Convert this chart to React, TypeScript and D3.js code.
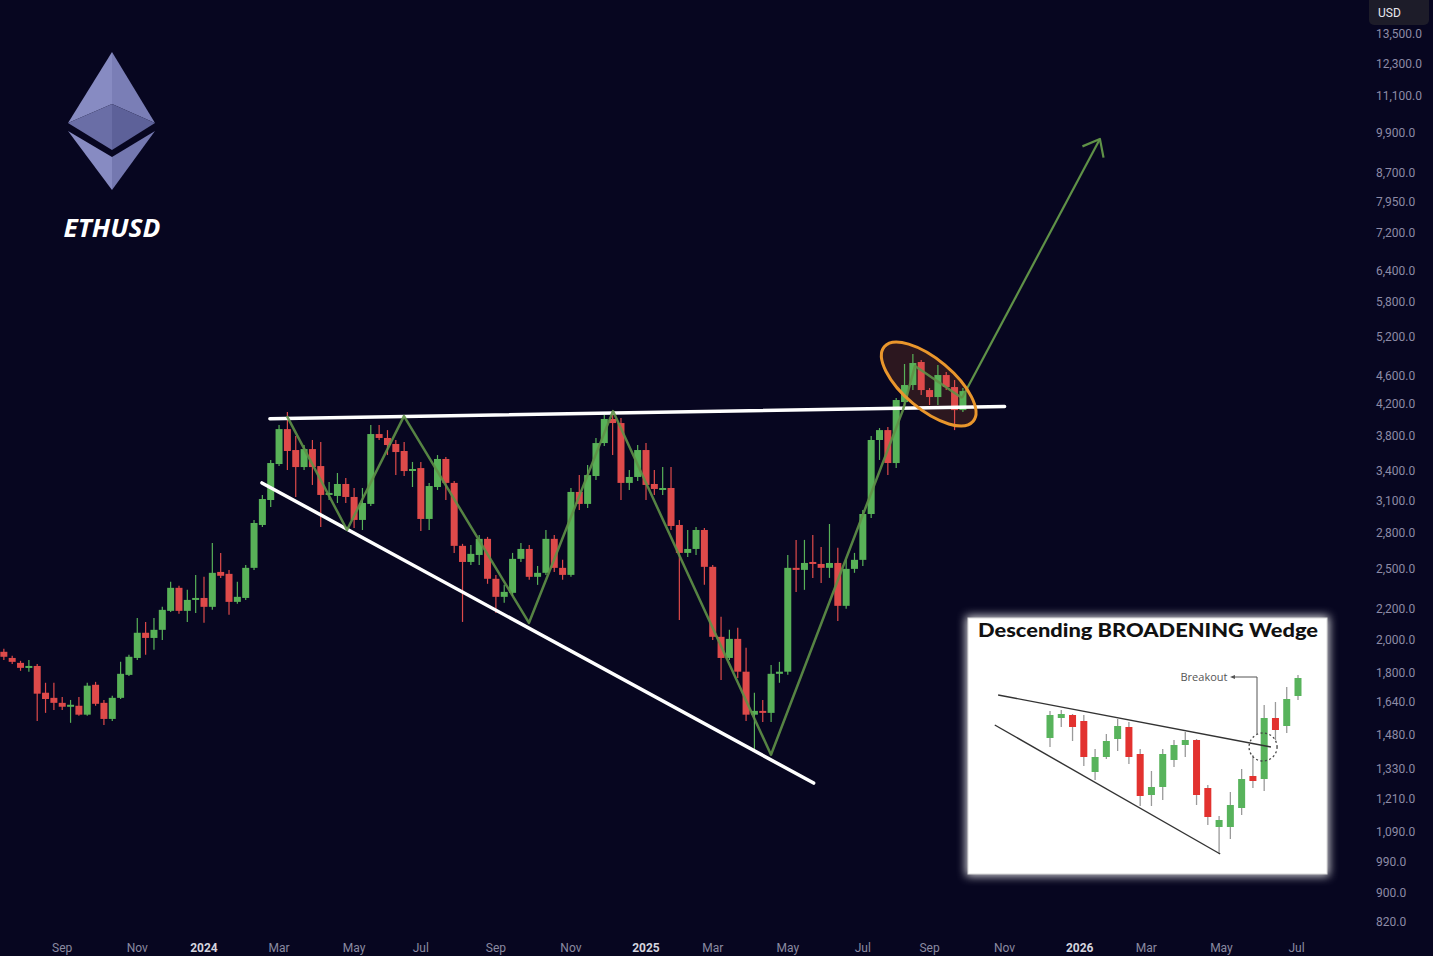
import React from "react";
import * as d3 from "d3";

const WIDTH = 1433;
const HEIGHT = 956;

// ETHUSD weekly candles, first candle week of 2023-07-17
const firstWeek = "2023-07-17";
const opens = [1923,1886,1857,1828,1839,1690,1663,1637,1617,1622,1577,1733,1637,1556,1663,1788,1886,2042,2009,2061,2188,2353,2188,2265,
  2279,2216,2474,2459,2251,2279,2506,2869,3104,3477,3882,3634,3444,3645,3455,3154,3144,3265,3134,2915,3066,3822,3775,3704,3623,3412,3433,2924,3234,3533,3276,2686,2553,2610,2746,2421,2287,2316,2578,2660,2436,2467,2746,2506,2451,3184,3066,3348,3715,4008,3957,3276,3338,
  3634,3265,3214,3224,2869,2627,2660,2824,2514,2016,1886,2003,1806,1577,1596,1586,1794,1806,2506,2490,2553,2537,2506,2545,2223,2498,2570,2970,3751,3870,3488,4228,4461,4797,4391,4295,4604,4433,4122];
const highs = [1941,1899,1869,1874,1851,1744,1744,1668,1652,1668,1744,1749,1652,1674,1863,1905,2140,2113,2140,2216,2398,2368,2338,2451,
  2436,2711,2627,2490,2398,2529,2915,3154,3522,3932,4096,3798,3692,3751,3727,3286,3380,3328,3224,3224,3932,3932,3870,3751,3727,3500,3500,3276,3577,3555,3297,2703,2694,2780,2763,2451,2375,2627,2711,2694,2521,2824,2780,2570,3224,3358,3466,3775,4058,4096,4021,3412,3692,
  3715,3412,3444,3444,2915,2824,2851,2842,2529,2147,2061,2074,1947,1690,1652,1845,1863,2610,2737,2737,2780,2677,2878,2669,2570,2627,3008,3798,3895,3907,4282,4767,4920,4828,4419,4752,4648,4532,4419];
const lows = [1874,1851,1811,1806,1546,1586,1601,1601,1537,1572,1572,1622,1527,1546,1657,1782,1874,1905,1935,1996,2181,2168,2113,2174,
  2107,2195,2428,2161,2237,2265,2490,2851,3037,3455,3412,3134,3412,3255,2851,3104,3075,3075,2842,2824,3047,3751,3577,3358,3348,3234,2815,2824,3204,3104,2627,2113,2529,2529,2383,2174,2244,2294,2553,2413,2375,2451,2474,2413,2436,3008,3027,3307,3681,3577,3104,3204,3297,
  3104,3154,3154,2824,2126,2594,2610,2375,1996,1760,1874,1771,1546,1403,1541,1541,1744,1788,2323,2338,2428,2390,2428,2120,2202,2467,2521,2933,3522,3358,3433,4175,4391,4322,4188,4188,4391,3870,4096];
const closes = [1893,1863,1828,1839,1685,1657,1637,1617,1627,1577,1728,1632,1556,1663,1794,1893,2042,2009,2061,2195,2353,2188,2265,2279,
  2216,2467,2444,2251,2287,2506,2887,3114,3488,3882,3623,3444,3645,3444,3154,3174,3265,3134,2915,3075,3822,3775,3692,3611,3401,3423,2924,3244,3533,3276,2686,2553,2619,2746,2421,2287,2323,2578,2660,2436,2467,2746,2506,2451,3184,3066,3358,3715,4008,3957,3276,3338,3634,
  3255,3214,3224,2860,2627,2660,2824,2514,2016,1886,2003,1806,1577,1596,1586,1794,1806,2506,2490,2545,2537,2506,2545,2223,2498,2570,2970,3751,3870,3488,4255,4461,4782,4391,4295,4604,4433,4122,4377];

// price axis
const yTicks = [13500,12300,11100,9900,8700,7950,7200,6400,5800,5200,4600,4200,3800,3400,3100,2800,2500,2200,2000,1800,1640,1480,1330,1210,1090,990,900,820];

// time axis
const xTickDates = ["2023-09-04","2023-11-06","2024-01-01","2024-03-04","2024-05-06","2024-07-01","2024-09-02","2024-11-04","2025-01-06","2025-03-03","2025-05-05","2025-07-07","2025-09-01","2025-11-03","2026-01-05","2026-03-02","2026-05-04","2026-07-06"];
const xTickLabels = ["Sep","Nov","2024","Mar","May","Jul","Sep","Nov","2025","Mar","May","Jul","Sep","Nov","2026","Mar","May","Jul"];

// annotations: [week index from 2024-01-01, price]
const resistanceLine: [number, number][] = [[7.9, 4010], [96.0, 4168]];
const supportLine: [number, number][] = [[6.95, 3276], [73.1, 1271]];
const zigzag: [number, number][] = [[9.95,4045],[17.15,2824],[23.98,4045],[38.97,2107],[49.04,4109],[67.99,1390],[83.81,4122],[85.25,4737],[90.89,4282]];
const projection: [number, number][] = [[90.89,4282],[107.43,9695]];
const highlight: [number, number] = [86.9, 4475];

// inset: idealised descending broadening wedge
const insetOpen = [66,76,77.5,74.5,49,56.5,65.5,71.5,58,37.5,41.5,55,62.5,65,41,21.5,21.5,31,47,45.5,76,72,87];
const insetHigh = [79.5,80,78,77.5,60.5,68,75.5,74,60.5,49.5,60.5,65,69,65.5,42.5,27,39,50.5,57.5,82.5,84,91.5,97.5];
const insetLow = [61.5,71.5,64.5,52,45,55.5,59.5,53,32,32,35,51.5,56.5,32.5,22.5,8,15.5,27.5,41,39.5,65,68.5,85];
const insetClose = [77.5,78,71.5,56.5,56.5,64.5,72,56.5,37,41.5,58,62.5,65,37.5,26.5,25,32.5,45.5,44.5,76,70,85.5,96];
const insetUpper: [number, number][] = [[-4.6,87.5],[19.6,61.5]];
const insetLower: [number, number][] = [[-4.9,72.5],[15.1,8]];
const insetBreakout: [number, number] = [18.9, 61.5];

const BG = "#070620";
const GREEN = "#58b158";
const RED = "#de4a4a";

export default function App() {
  const anchor = Date.UTC(2024, 0, 1);
  const weekMs = 7 * 864e5;
  const weekOf = (s: string) => Math.round((Date.parse(s + "T00:00:00Z") - anchor) / weekMs);
  const x = d3.scaleLinear().domain([0, 53]).range([204, 646]);
  const y = d3.scaleLog().domain([820, 13500]).range([922, 34]);
  const start = weekOf(firstWeek);
  const candles = opens.map((o, i) => ({ w: start + i, o, h: highs[i], l: lows[i], c: closes[i] }));
  const line = d3.line<[number, number]>().x(d => x(d[0])).y(d => y(d[1]));

  const ix = d3.scaleLinear().domain([0, 22]).range([1050, 1298]);
  const iy = d3.scaleLinear().domain([0, 100]).range([870, 670]);
  const iline = d3.line<[number, number]>().x(d => ix(d[0])).y(d => iy(d[1]));
  const insetCandles = insetOpen.map((o, i) => ({ o, h: insetHigh[i], l: insetLow[i], c: insetClose[i] }));

  // arrow head
  const p0 = projection[0], p1 = projection[1];
  const ax0 = x(p0[0]), ay0 = y(p0[1]), ax1 = x(p1[0]), ay1 = y(p1[1]);
  const ang = Math.atan2(ay0 - ay1, ax0 - ax1);
  const headLen = 19, spread = 0.68;
  const h1 = [ax1 + headLen * Math.cos(ang + spread), ay1 + headLen * Math.sin(ang + spread)];
  const h2 = [ax1 + headLen * Math.cos(ang - spread), ay1 + headLen * Math.sin(ang - spread)];

  const cw = 7;
  const font = "Roboto, 'DejaVu Sans', sans-serif";

  return (
    <div style={{ position: "fixed", left: 0, top: 0, width: WIDTH, height: HEIGHT, overflow: "hidden" }}>
      <svg width={WIDTH} height={HEIGHT} style={{ display: "block", background: BG }}>
        <defs>
          <filter id="glow" x="-20%" y="-20%" width="140%" height="140%">
            <feGaussianBlur stdDeviation="5" />
          </filter>
        </defs>
        <rect x={0} y={0} width={WIDTH} height={HEIGHT} fill={BG} />

        {/* ETH logo */}
        <g>
          <polygon points="112,52 68,123 112,104" fill="#878bc2" />
          <polygon points="112,52 155,123 112,104" fill="#7a7eb6" />
          <polygon points="68,123 112,104 112,150" fill="#6a6ea6" />
          <polygon points="155,123 112,104 112,150" fill="#5d6199" />
          <polygon points="68,131 112,157 112,190" fill="#878bc2" />
          <polygon points="155,131 112,157 112,190" fill="#7478b0" />
          <text x={112} y={237} textAnchor="middle" fill="#ffffff" fontFamily="'Open Sans', 'DejaVu Sans', sans-serif"
            fontWeight={700} fontStyle="italic" fontSize={25} textLength={97} lengthAdjust="spacingAndGlyphs">ETHUSD</text>
        </g>

        {/* highlight ellipse fill */}
        <ellipse cx={x(highlight[0])} cy={y(highlight[1])} rx={58} ry={25}
          transform={`rotate(40 ${x(highlight[0])} ${y(highlight[1])})`} fill="rgba(125,58,32,0.32)" />

        {/* candles */}
        <g>
          {candles.map((d, i) => {
            const up = d.c >= d.o;
            const col = up ? GREEN : RED;
            const cx = x(d.w);
            const top = y(Math.max(d.o, d.c));
            const bot = y(Math.min(d.o, d.c));
            return (
              <g key={i}>
                <line x1={cx} x2={cx} y1={y(d.h)} y2={y(d.l)} stroke={col} strokeWidth={1.2} />
                <rect x={cx - cw / 2} y={top} width={cw} height={Math.max(2, bot - top)} fill={col} />
              </g>
            );
          })}
        </g>

        {/* trend lines */}
        <path d={line(resistanceLine) || ""} stroke="#ffffff" strokeWidth={3.5} fill="none" strokeLinecap="round" />
        <path d={line(supportLine) || ""} stroke="#ffffff" strokeWidth={3.5} fill="none" strokeLinecap="round" />
        <path d={line(zigzag) || ""} stroke="#5f9147" strokeOpacity={0.9} strokeWidth={2.5} fill="none" strokeLinejoin="round" />
        <path d={line(projection) || ""} stroke="#5f9147" strokeWidth={2.2} fill="none" />
        <polyline points={`${h1[0]},${h1[1]} ${ax1},${ay1} ${h2[0]},${h2[1]}`} stroke="#5f9147" strokeWidth={2.2} fill="none" strokeLinejoin="round" />

        {/* highlight ellipse stroke */}
        <ellipse cx={x(highlight[0])} cy={y(highlight[1])} rx={58} ry={25}
          transform={`rotate(40 ${x(highlight[0])} ${y(highlight[1])})`} fill="none" stroke="#e9962c" strokeWidth={3} />

        {/* y axis */}
        <g fontFamily={font} fontSize={12} fill="#8d8ba6">
          {yTicks.map((t, i) => (
            <text key={i} x={1376} y={y(t)} dy="0.35em">{d3.format(",.1f")(t)}</text>
          ))}
        </g>
        <rect x={1369} y={-6} width={60} height={31} rx={5} fill="#1d1c29" />
        <text x={1378} y={17} fontFamily={font} fontSize={12} fill="#e8e8ee">USD</text>

        {/* x axis */}
        <g fontFamily={font} fontSize={12} textAnchor="middle">
          {xTickDates.map((d, i) => {
            const isYear = /^\d{4}$/.test(xTickLabels[i]);
            return (
              <text key={i} x={x(weekOf(d))} y={952} fill={isYear ? "#d4d4de" : "#8a8aa0"} fontWeight={isYear ? 700 : 400}>
                {xTickLabels[i]}
              </text>
            );
          })}
        </g>

        {/* inset panel */}
        <rect x={966} y={616} width={363} height={260} fill="#ffffff" opacity={0.85} filter="url(#glow)" />
        <rect x={968} y={618} width={359} height={256} fill="#ffffff" stroke="#d8d8d8" strokeWidth={1} />
        <text x={978} y={637} fontFamily="Lato, 'Open Sans', sans-serif" fontWeight={900} fontSize={19} fill="#111111"
          textLength={340} lengthAdjust="spacingAndGlyphs">Descending BROADENING Wedge</text>
        <g>
          {insetCandles.map((d, i) => {
            const up = d.c >= d.o;
            const col = up ? "#58b35c" : "#e2322f";
            const cx = ix(i);
            const top = iy(Math.max(d.o, d.c));
            const bot = iy(Math.min(d.o, d.c));
            return (
              <g key={i}>
                <line x1={cx} x2={cx} y1={iy(d.h)} y2={iy(d.l)} stroke="#9a9a9a" strokeWidth={1.3} />
                <rect x={cx - 3.5} y={top} width={7} height={Math.max(2, bot - top)} fill={col} />
              </g>
            );
          })}
        </g>
        <path d={iline(insetUpper) || ""} stroke="#333333" strokeWidth={1.4} fill="none" />
        <path d={iline(insetLower) || ""} stroke="#333333" strokeWidth={1.4} fill="none" />
        <circle cx={ix(insetBreakout[0])} cy={iy(insetBreakout[1])} r={14} fill="none" stroke="#444444" strokeWidth={1.3} strokeDasharray="2 2.5" />
        <text x={1204} y={681} textAnchor="middle" fontFamily="'Open Sans', 'DejaVu Sans', sans-serif" fontSize={11} fill="#555555">Breakout</text>
        <polyline points={`1232,677 1257,677 1257,734`} stroke="#555555" strokeWidth={1} fill="none" />
        <polygon points="1230,677 1235,675 1235,679" fill="#555555" />
      </svg>
    </div>
  );
}
